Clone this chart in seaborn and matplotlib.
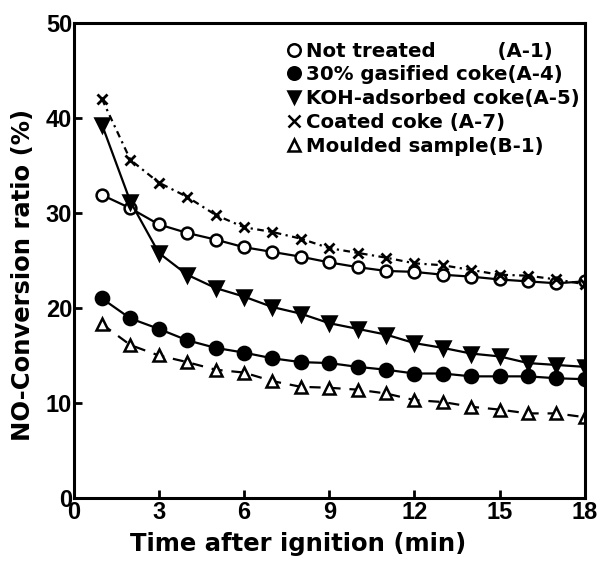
import matplotlib
matplotlib.use("Agg")
import matplotlib.pyplot as plt
import seaborn as sns
from matplotlib.lines import Line2D

sns.set_theme(style="white")
plt.rcParams['font.family'] = ['DejaVu Sans']
plt.rcParams['text.color'] = 'black'
plt.rcParams['axes.labelcolor'] = 'black'
plt.rcParams['xtick.color'] = 'black'
plt.rcParams['ytick.color'] = 'black'

time_min = list(range(1, 19))
not_treated = [31.9, 30.5, 28.8, 27.9, 27.2, 26.4, 25.9, 25.4, 24.8, 24.3, 23.9, 23.8, 23.5, 23.3, 23.0, 22.8, 22.6, 22.8]
gasified = [21.0, 18.9, 17.8, 16.6, 15.8, 15.3, 14.7, 14.3, 14.2, 13.8, 13.5, 13.1, 13.1, 12.8, 12.8, 12.8, 12.6, 12.5]
koh = [39.3, 31.2, 25.8, 23.5, 22.1, 21.2, 20.1, 19.4, 18.4, 17.8, 17.2, 16.3, 15.8, 15.2, 14.9, 14.2, 14.0, 13.8]
coated = [42.0, 35.6, 33.2, 31.7, 29.8, 28.5, 28.0, 27.3, 26.3, 25.8, 25.3, 24.7, 24.5, 24.0, 23.5, 23.4, 23.0, 22.5]
moulded = [18.3, 16.1, 15.0, 14.3, 13.5, 13.2, 12.3, 11.7, 11.6, 11.4, 11.0, 10.3, 10.1, 9.6, 9.3, 8.9, 8.9, 8.5]

labels = ["Not treated         (A-1)", "30% gasified coke(A-4)", "KOH-adsorbed coke(A-5)",
          "Coated coke (A-7)", "Moulded sample(B-1)"]
x_ticks = [0, 3, 6, 9, 12, 15, 18]
y_ticks = [0, 10, 20, 30, 40, 50]

fig = plt.figure(figsize=(5.98, 5.62), dpi=100)
ax = fig.add_axes([0.123, 0.114, 0.855, 0.845])

styles = [
    (not_treated, dict(marker='o', markerfacecolor='white', linestyle='-', markersize=8.5)),
    (gasified, dict(marker='o', markerfacecolor='black', linestyle='-', markersize=9.5)),
    (koh, dict(marker='v', markerfacecolor='black', linestyle='-', markersize=9.5)),
    (coated, dict(marker='x', markerfacecolor='black', linestyle=(0, (3, 2, 1, 2)), markersize=7.5, markeredgewidth=2)),
    (moulded, dict(marker='^', markerfacecolor='white', linestyle=(0, (5, 4)), markersize=8.5)),
]
for vals, st in styles:
    st = dict(st)
    mew = st.pop('markeredgewidth', 1.8)
    sns.lineplot(x=time_min, y=vals, ax=ax, color='black', linewidth=1.6,
                 markeredgecolor='black', markeredgewidth=mew, **st)

tick_font = ['Liberation Sans', 'DejaVu Sans']
ax.set_xlim(0, 18)
ax.set_ylim(0, 50)
ax.set_xticks(x_ticks)
ax.set_yticks(y_ticks)
ax.set_xticklabels([str(t) for t in x_ticks], fontsize=17, fontweight='bold', family=tick_font)
ax.set_yticklabels([str(t) for t in y_ticks], fontsize=17, fontweight='bold', family=tick_font)
ax.tick_params(direction='in', length=6, width=2, color='black', pad=1)
ax.tick_params(axis='x', top=False, bottom=True, pad=2)
ax.tick_params(axis='y', left=True, right=False)
for s in ax.spines.values():
    s.set_color('black')
    s.set_linewidth(2.2)
ax.set_xlabel("Time after ignition (min)", fontsize=17.5, fontweight='bold')
ax.set_ylabel("NO-Conversion ratio (%)", fontsize=17.5, fontweight='bold')
ax.xaxis.set_label_coords(0.44, -0.072)
ax.yaxis.set_label_coords(-0.075, 0.47)

handles = []
for vals, st in styles:
    handles.append(Line2D([], [], color='black', linestyle='none', marker=st['marker'],
                          markerfacecolor=st['markerfacecolor'], markeredgecolor='black',
                          markersize=9, markeredgewidth=1.8))
ax.legend(handles, labels, loc='upper left', bbox_to_anchor=(0.39, 0.99), frameon=False,
          prop={'weight': 'bold', 'size': 14.2}, handlelength=0.7, handletextpad=0.3,
          labelspacing=0.24, borderaxespad=0.3)

fig.savefig("out.png", dpi=100)
